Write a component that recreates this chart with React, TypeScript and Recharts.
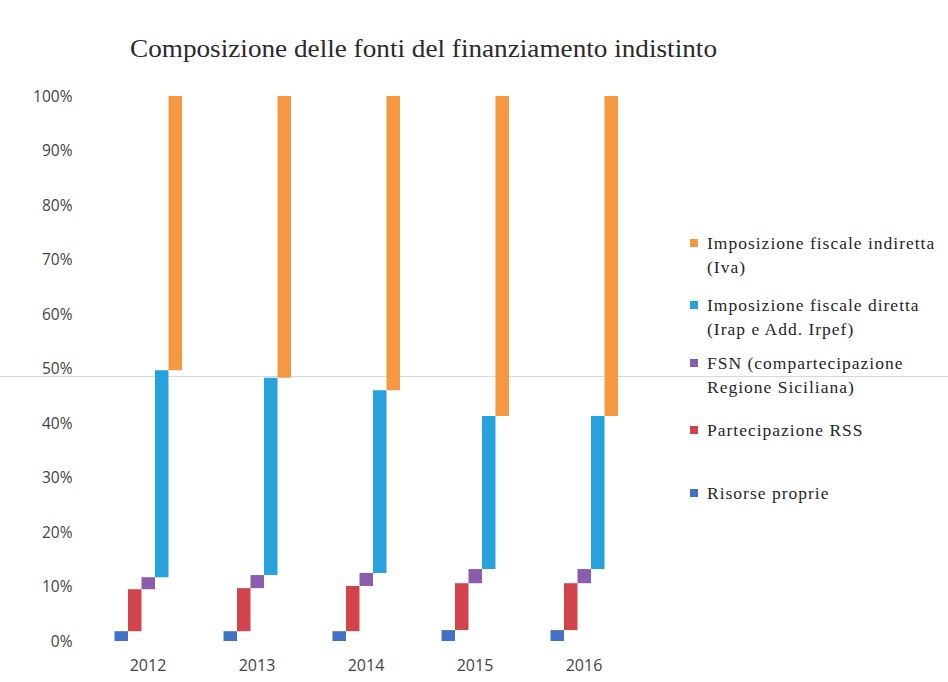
import React from 'react';
import { BarChart, Bar, XAxis, YAxis } from 'recharts';

const years = ['2012', '2013', '2014', '2015', '2016'];
const risorseProprie = [1.8, 1.8, 1.8, 2.0, 2.0];
const partecipazioneRSS = [7.7, 7.9, 8.3, 8.6, 8.6];
const fsnCompartecipazione = [2.2, 2.4, 2.4, 2.6, 2.6];
const impDiretta = [38.0, 36.2, 33.5, 28.1, 28.1];
const impIndiretta = [50.3, 51.7, 54.0, 58.7, 58.7];
const yTicks = [0, 10, 20, 30, 40, 50, 60, 70, 80, 90, 100];

const seriesList = [
  { key: 'ris', name: 'Risorse proprie', values: risorseProprie, color: '#4270C6' },
  { key: 'rss', name: 'Partecipazione RSS', values: partecipazioneRSS, color: '#D2444C' },
  { key: 'fsn', name: 'FSN (compartecipazione Regione Siciliana)', values: fsnCompartecipazione, color: '#8A5CAE' },
  { key: 'dir', name: 'Imposizione fiscale diretta (Irap e Add. Irpef)', values: impDiretta, color: '#27A2DE' },
  { key: 'ind', name: 'Imposizione fiscale indiretta (Iva)', values: impIndiretta, color: '#F69842' },
];

const data = years.map((y, i) => {
  const row: any = { year: y };
  let acc = 0;
  seriesList.forEach((s) => {
    const lo = acc;
    acc += s.values[i];
    row[s.key] = [lo, acc];
  });
  return row;
});

const legendItems = [
  { color: '#F69842', lines: ['Imposizione fiscale indiretta', '(Iva)'], top: 231 },
  { color: '#27A2DE', lines: ['Imposizione fiscale diretta', '(Irap e Add. Irpef)'], top: 293 },
  { color: '#8A5CAE', lines: ['FSN (compartecipazione', 'Regione Siciliana)'], top: 351 },
  { color: '#D2444C', lines: ['Partecipazione RSS'], top: 418 },
  { color: '#4270C6', lines: ['Risorse proprie'], top: 481 },
];

const serif = '"Liberation Serif", "DejaVu Serif", serif';

export default function App() {
  return (
    <div style={{ position: 'absolute', left: 0, top: 0, width: 948, height: 682, background: '#fff', overflow: 'hidden' }}>
      <div style={{ position: 'absolute', left: 0, top: 376, width: 948, height: 1, background: '#d8d8d8' }} />
      <svg style={{ position: 'absolute', left: 0, top: 0 }} width={948} height={80}>
        <text x={130} y={57} fontFamily={serif} fontSize={26} fill="#2a2a2a" textLength={587} lengthAdjust="spacingAndGlyphs">
          Composizione delle fonti del finanziamento indistinto
        </text>
      </svg>
      <div style={{ position: 'absolute', left: 0, top: 0 }}>
        <BarChart
          width={948}
          height={682}
          data={data}
          margin={{ top: 96, right: 309.5, bottom: 11, left: 13.5 }}
          barGap={0}
        >
          <XAxis
            dataKey="year"
            axisLine={false}
            tickLine={false}
            tickSize={0}
            tickMargin={19}
            height={30}
            tick={{ fill: '#444', fontSize: 16, fontFamily: '"Open Sans", sans-serif' }}
          />
          <YAxis
            type="number"
            domain={[0, 100]}
            ticks={yTicks}
            tickFormatter={(v: number) => `${v}%`}
            axisLine={false}
            tickLine={false}
            tickSize={0}
            tickMargin={21}
            width={80}
            tick={{ fill: '#444', fontSize: 15.5, fontFamily: '"Open Sans", sans-serif' }}
          />
          {seriesList.map((s) => (
            <Bar key={s.key} dataKey={s.key} name={s.name} fill={s.color} barSize={13.5} isAnimationActive={false} />
          ))}
        </BarChart>
      </div>
      {legendItems.map((it, idx) => (
        <div key={idx} style={{ position: 'absolute', left: 690, top: it.top, fontFamily: serif, fontSize: 17.5, color: '#262626', lineHeight: '24px', letterSpacing: '1px' }}>
          <div style={{ position: 'absolute', left: 0, top: 8, width: 8, height: 8, background: it.color }} />
          {it.lines.map((l, j) => (
            <div key={j} style={{ marginLeft: 17, whiteSpace: 'nowrap' }}>{l}</div>
          ))}
        </div>
      ))}
    </div>
  );
}
